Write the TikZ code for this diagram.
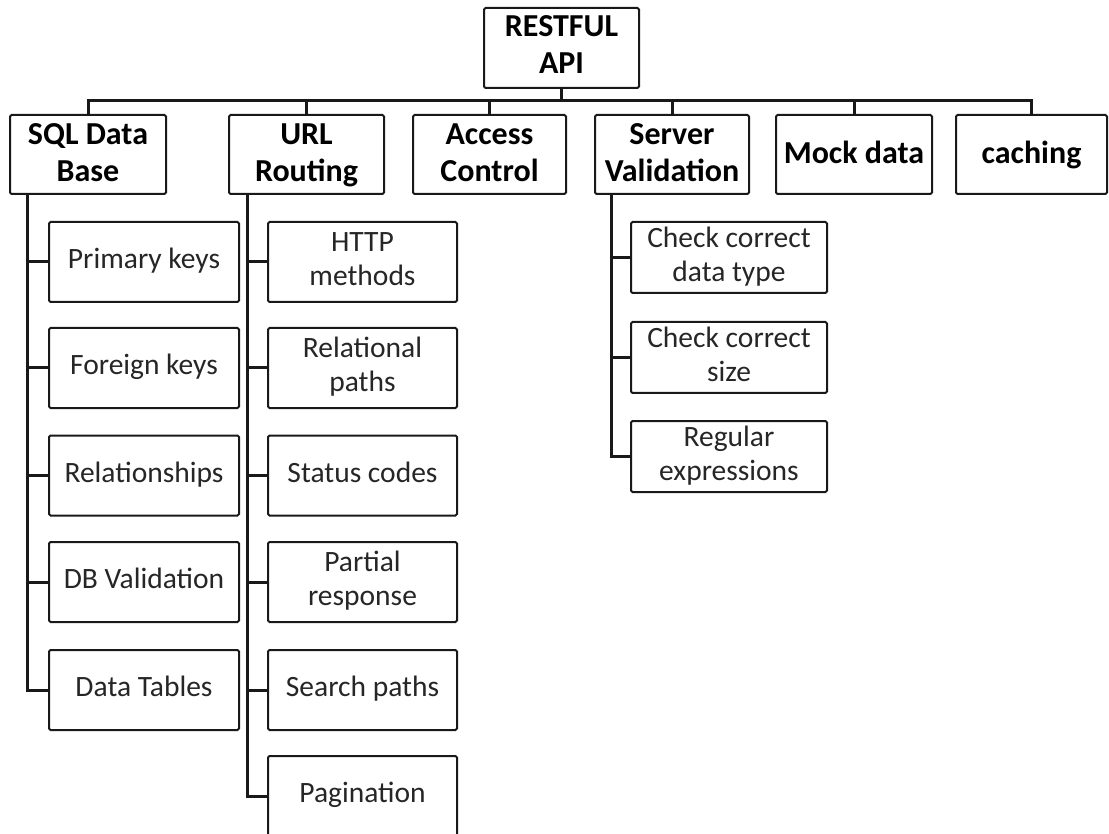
\documentclass[tikz,border=0pt]{standalone}
\usepackage{fontspec}
\setmainfont{Carlito}
% line strut for the bold first-level boxes
\newcommand{\hstrut}{\rule[-9.5pt]{0pt}{37pt}}
\begin{document}
\begin{tikzpicture}[x=1pt,y=-1pt,
  box/.style={draw=black!90, line width=2pt, rounded corners=1.5pt, inner sep=0pt, align=center, fill=white},
  topbox/.style={box, font=\bfseries\fontsize{32}{37}\selectfont, minimum height=79pt},
  leafbox/.style={box, font=\fontsize{29.5}{34}\selectfont, text=black!85, minimum width=190pt, minimum height=80pt},
  checkbox/.style={leafbox, minimum width=196pt, minimum height=71pt},
  link/.style={line width=3pt, draw=black!90, line join=miter}]
\fill[white] (0,0) rectangle (1109,834);
\useasboundingbox (0,0) rectangle (1109,834);

% root
\node[topbox, minimum width=155pt, minimum height=80pt] (root) at (561.5,48) {\strut RESTFUL\\\strut API};

% first level
\node[topbox, minimum width=156pt] (sql)  at (88,154.5)    {\hstrut SQL Data\\\hstrut Base};
\node[topbox, minimum width=155pt] (url)  at (306.5,154.5) {\hstrut URL\\\hstrut Routing};
\node[topbox, minimum width=153pt] (acc)  at (489.5,154.5) {\hstrut Access\\\hstrut Control};
\node[topbox, minimum width=154pt] (srv)  at (672,154.5)   {\hstrut Server\\\hstrut Validation};
\node[topbox, minimum width=156pt] (mock) at (854,154.5)   {\hstrut Mock data};
\node[topbox, minimum width=151pt] (cach) at (1031.5,154.5) {\hstrut caching};

% database leaves
\node[leafbox] (sql1) at (144,262)   {\strut Primary keys};
\node[leafbox] (sql2) at (144,368)   {\strut Foreign keys};
\node[leafbox] (sql3) at (144,475.5) {\strut Relationships};
\node[leafbox] (sql4) at (144,582)   {\strut DB Validation};
\node[leafbox] (sql5) at (144,690)   {\strut Data Tables};

% routing leaves
\node[leafbox, minimum width=189pt] (url1) at (362.5,262)   {\strut HTTP\\\strut methods};
\node[leafbox, minimum width=189pt] (url2) at (362.5,368)   {\strut Relational\\\strut paths};
\node[leafbox, minimum width=189pt] (url3) at (362.5,475.5) {\strut Status codes};
\node[leafbox, minimum width=189pt] (url4) at (362.5,582)   {\strut Partial\\\strut response};
\node[leafbox, minimum width=189pt] (url5) at (362.5,690)   {\strut Search paths};
\node[leafbox, minimum width=189pt] (url6) at (362.5,796)   {\strut Pagination};

% validation leaves
\node[checkbox] (srv1) at (729,257.5) {\strut Check correct\\\strut data type};
\node[checkbox] (srv2) at (729,357.5) {\strut Check correct\\\strut size};
\node[checkbox] (srv3) at (729,456.5) {\strut Regular\\\strut expressions};

% bus under the root
\coordinate (bus) at (0,101);
\draw[link] (root.south) -- (root.south |- bus);
\draw[link] (sql.north) -- (sql.north |- bus) -- (cach.north |- bus) -- (cach.north);
\foreach \n in {url,acc,srv,mock}
  \draw[link] (\n.north) -- (\n.north |- bus);

% trunks of the three branches
\coordinate (sqltrunk) at (27,0);
\coordinate (urltrunk) at (247,0);
\coordinate (srvtrunk) at (611,0);

\draw[link] (sql.south -| sqltrunk) |- (sql5.west);
\foreach \i in {1,...,4}
  \draw[link] (sql\i.west) -- (sql\i.west -| sqltrunk);

\draw[link] (url.south -| urltrunk) |- (url6.west);
\foreach \i in {1,...,5}
  \draw[link] (url\i.west) -- (url\i.west -| urltrunk);

\draw[link] (srv.south -| srvtrunk) |- (srv3.west);
\foreach \i in {1,2}
  \draw[link] (srv\i.west) -- (srv\i.west -| srvtrunk);
\end{tikzpicture}
\end{document}
